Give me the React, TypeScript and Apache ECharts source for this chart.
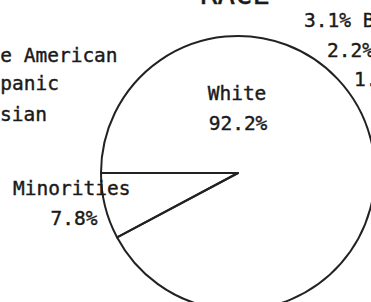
import React, { useEffect, useRef } from "react";
import * as echarts from "echarts";

const title = "RACE";
const categories = ["White", "Minorities"];
const values = [92.2, 7.8];
const leftListLabels = ["Native American", "Hispanic", "Asian"];
const rightListLabels = ["3.1% Black", "2.2% Hispanic", "1.5% Asian"];

const FONT = '19.5px "DejaVu Sans Mono", monospace';
const INK = "#1a1a1a";

export default function App() {
  const ref = useRef<HTMLDivElement>(null);
  useEffect(() => {
    if (!ref.current) return;
    const chart = echarts.init(ref.current, undefined, { renderer: "svg" });
    const cx = 238;
    const cy = 173;
    const r = 137;
    const txt = (text: string, x: number, y: number, align: string, font = FONT) => ({
      type: "text",
      x,
      y,
      z: 100,
      silent: true,
      style: {
        text,
        font,
        fill: INK,
        stroke: INK,
        lineWidth: 0.4,
        textAlign: align,
        textVerticalAlign: "middle",
      },
    });
    const leftPos = [
      [-58.5, 55],
      [-35, 83],
      [-11.7, 114],
    ];
    const rightPos = [
      [304, 20],
      [327, 50],
      [354, 79],
    ];
    const graphics: any[] = [
      txt(title, 235, -6, "center", '29px "DejaVu Sans Mono", monospace'),
      txt(categories[0], 237, 93, "center"),
      txt(values[0].toFixed(1) + "%", 238, 123, "center"),
      txt(categories[1], 13, 188, "left"),
      txt(values[1].toFixed(1) + "%", 74, 218, "center"),
    ];
    leftListLabels.forEach((t, i) => graphics.push(txt(t, leftPos[i][0], leftPos[i][1], "left")));
    rightListLabels.forEach((t, i) => graphics.push(txt(t, rightPos[i][0], rightPos[i][1], "left")));

    chart.setOption({
      animation: false,
      backgroundColor: "#ffffff",
      series: [
        {
          type: "pie",
          z: 1,
          center: [cx, cy],
          radius: r,
          startAngle: 180,
          clockwise: true,
          silent: true,
          label: { show: false },
          labelLine: { show: false },
          emphasis: { disabled: true },
          itemStyle: { color: "rgba(255,255,255,0)", borderColor: "#222222", borderWidth: 2 },
          data: categories.map((name, i) => ({ name, value: values[i] })),
        },
      ],
      graphic: { elements: graphics },
    });
    return () => chart.dispose();
  }, []);
  return (
    <div
      ref={ref}
      style={{ position: "fixed", left: 0, top: 0, width: 371, height: 302, background: "#fff" }}
    />
  );
}
